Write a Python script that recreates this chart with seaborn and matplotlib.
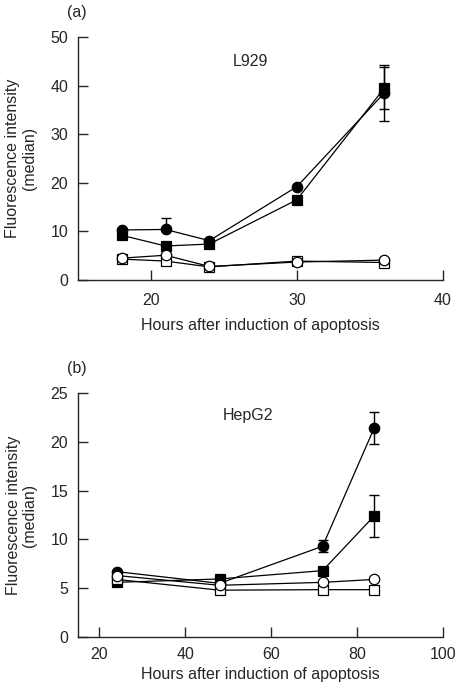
import matplotlib
matplotlib.use("Agg")
import matplotlib.pyplot as plt
import numpy as np
import pandas as pd
import seaborn as sns

# Panel (a): L929
L929_HOURS = [18, 21, 24, 30, 36]
L929_FILLED_CIRCLE = [10.3, 10.4, 8.1, 19.2, 38.5]
L929_FILLED_SQUARE = [9.2, 7.0, 7.4, 16.5, 39.5]
L929_OPEN_CIRCLE = [4.5, 5.1, 2.8, 3.7, 4.1]
L929_OPEN_SQUARE = [4.3, 3.9, 2.7, 3.9, 3.6]
# error bars: (x, y, lower, upper)
L929_ERR_CIRCLE = ([21, 36], [10.4, 38.5], [0.0, 5.7], [2.4, 5.7])
L929_ERR_SQUARE = ([36], [39.5], [4.3], [4.3])

# Panel (b): HepG2
HEPG2_HOURS = [24, 48, 72, 84]
HEPG2_FILLED_CIRCLE = [6.7, 5.5, 9.3, 21.4]
HEPG2_FILLED_SQUARE = [5.6, 5.95, 6.8, 12.4]
HEPG2_OPEN_CIRCLE = [6.3, 5.3, 5.6, 5.9]
HEPG2_OPEN_SQUARE = [5.9, 4.8, 4.85, 4.85]
HEPG2_ERR_CIRCLE = ([72, 84], [9.3, 21.4], [0.6, 1.65], [0.6, 1.65])
HEPG2_ERR_SQUARE = ([84], [12.4], [2.15], [2.15])

FS = 11.5

sns.set_style("ticks")
plt.rcParams["font.family"] = ["Liberation Sans", "DejaVu Sans"]
plt.rcParams["font.size"] = FS
plt.rcParams["xtick.direction"] = "in"
plt.rcParams["ytick.direction"] = "in"


def draw_panel(ax, hours, fc, fs, oc, os_, err_c, err_s, xpad, xlabelpad):
    for errs in (err_c, err_s):
        x, y, lo, hi = errs
        ax.errorbar(x, y, yerr=[lo, hi], fmt="none", ecolor="black",
                    elinewidth=1, capsize=3.5, capthick=1, zorder=1)
    series = [
        (fc, "o", "black"),
        (fs, "s", "black"),
        (os_, "s", "white"),
        (oc, "o", "white"),
    ]
    for i, (vals, marker, face) in enumerate(series):
        df = pd.DataFrame({"x": hours, "y": vals})
        sns.lineplot(data=df, x="x", y="y", ax=ax, color="black",
                     linewidth=0.9, marker=marker, markersize=7.5 if marker == "o" else 7,
                     markerfacecolor=face, markeredgecolor="black",
                     markeredgewidth=0.9, zorder=2 + i)
    sns.despine(ax=ax)
    ax.tick_params(direction="in", length=7, width=1, labelsize=FS)
    ax.tick_params(axis="x", pad=xpad)
    ax.tick_params(axis="y", pad=7)
    for sp in ("left", "bottom"):
        ax.spines[sp].set_linewidth(1)
    ax.set_xlabel("Hours after induction of apoptosis", fontsize=FS, labelpad=xlabelpad)
    ax.set_ylabel("Fluorescence intensity\n(median)", fontsize=FS, labelpad=9.5,
                  linespacing=1.15)


fig = plt.figure(figsize=(4.56, 6.84), dpi=100)
ax1 = fig.add_axes([0.171, 0.5906, 0.8, 0.3554])
ax2 = fig.add_axes([0.171, 0.0687, 0.8, 0.3567])

draw_panel(ax1, L929_HOURS, L929_FILLED_CIRCLE, L929_FILLED_SQUARE,
           L929_OPEN_CIRCLE, L929_OPEN_SQUARE, L929_ERR_CIRCLE, L929_ERR_SQUARE,
           xpad=9, xlabelpad=7.5)
ax1.set_xlim(15, 40)
ax1.set_ylim(0, 50)
ax1.set_xticks([20, 30, 40])
ax1.set_yticks([0, 10, 20, 30, 40, 50])
ax1.text(26.8, 44.9, "L929", ha="center", va="center", fontsize=FS)

draw_panel(ax2, HEPG2_HOURS, HEPG2_FILLED_CIRCLE, HEPG2_FILLED_SQUARE,
           HEPG2_OPEN_CIRCLE, HEPG2_OPEN_SQUARE, HEPG2_ERR_CIRCLE, HEPG2_ERR_SQUARE,
           xpad=7, xlabelpad=3.5)
ax2.set_xlim(15, 100)
ax2.set_ylim(0, 25)
ax2.set_xticks([20, 40, 60, 80, 100])
ax2.set_yticks([0, 5, 10, 15, 20, 25])
ax2.text(54.6, 22.7, "HepG2", ha="center", va="center", fontsize=FS)

fig.text(77 / 456, 1 - 13 / 684, "(a)", ha="center", va="center", fontsize=FS)
fig.text(77 / 456, 1 - 369 / 684, "(b)", ha="center", va="center", fontsize=FS)

fig.savefig("out.png", dpi=100)
